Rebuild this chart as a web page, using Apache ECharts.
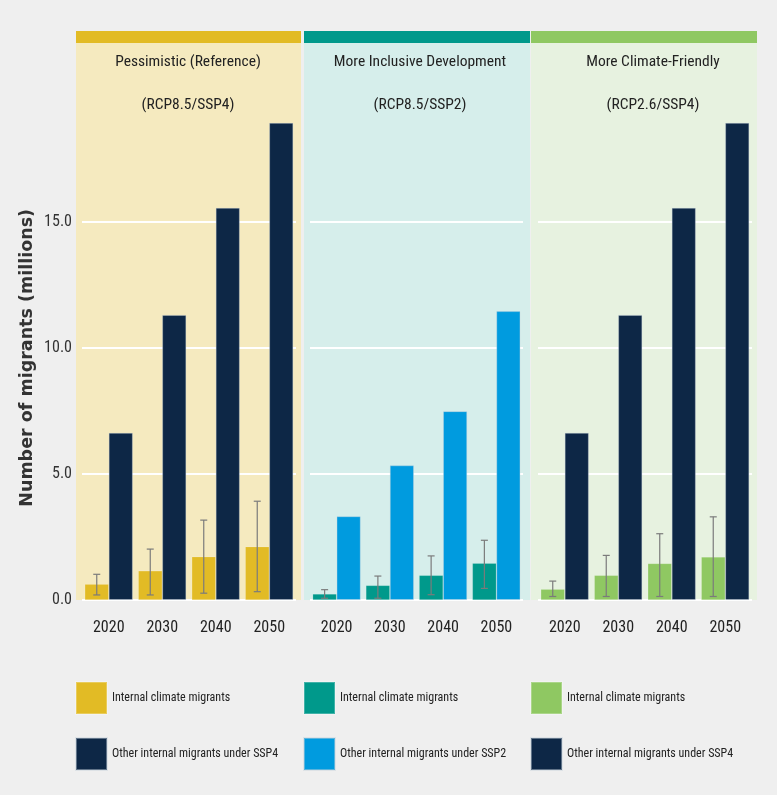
<!DOCTYPE html>
<html>
<head>
<meta charset="utf-8">
<script src="https://cdn.jsdelivr.net/npm/echarts@6/dist/echarts.min.js"></script>
<style>
html,body{margin:0;padding:0;background:#efefef;}
#chart{width:777px;height:795px;}
</style>
</head>
<body>
<div id="chart"></div>
<script>
// ---- data ----
const years = ['2020', '2030', '2040', '2050'];
const yTickLabels = ['0.0', '5.0', '10.0', '15.0'];
const panelTitles = ['Pessimistic (Reference)\n(RCP8.5/SSP4)', 'More Inclusive Development\n(RCP8.5/SSP2)', 'More Climate-Friendly\n(RCP2.6/SSP4)'];
const climateName = 'Internal climate migrants';
const otherNames = ['Other internal migrants under SSP4', 'Other internal migrants under SSP2', 'Other internal migrants under SSP4'];

const pessClimate = [0.63, 1.16, 1.72, 2.12];
const pessLow = [0.20, 0.20, 0.27, 0.33];
const pessHigh = [1.02, 2.02, 3.17, 3.92];
const pessOther = [6.63, 11.31, 15.56, 18.93];

const inclClimate = [0.24, 0.58, 0.98, 1.46];
const inclLow = [0.07, 0.07, 0.21, 0.46];
const inclHigh = [0.41, 0.95, 1.75, 2.37];
const inclOther = [3.32, 5.34, 7.49, 11.46];

const frClimate = [0.43, 0.98, 1.45, 1.71];
const frLow = [0.14, 0.14, 0.14, 0.14];
const frHigh = [0.75, 1.77, 2.63, 3.30];
const frOther = [6.63, 11.31, 15.56, 18.93];

// ---- styling ----
const NARROW = '"Roboto Condensed", "Liberation Sans Narrow", "Arial Narrow", "DejaVu Sans Condensed", sans-serif';
const climateColors = ['#e2bb25', '#00998b', '#8fc862'];
const otherColors = ['#0d2746', '#009bdf', '#0d2746'];
const panelBg = ['#f5eabf', '#d6eeeb', '#e7f2e0'];
const panelRects = [[76, 225], [304, 226], [531, 226]];
const gridLefts = [82, 310, 538];
const gridWidths = [214, 213, 214];
const titleCenters = [188, 420, 653];
const BAR_W = 24;

const panels = [
  {climate: pessClimate, low: pessLow, high: pessHigh, other: pessOther},
  {climate: inclClimate, low: inclLow, high: inclHigh, other: inclOther},
  {climate: frClimate, low: frLow, high: frHigh, other: frOther}
];

const grids = [], xAxes = [], yAxes = [], series = [], titles = [], legends = [], graphics = [];

panels.forEach((p, i) => {
  grids.push({left: gridLefts[i], width: gridWidths[i], top: 45.6, bottom: 195, containLabel: false});
  xAxes.push({
    type: 'category', gridIndex: i, data: years,
    axisLine: {show: false}, axisTick: {show: false},
    axisLabel: {margin: 20, fontFamily: NARROW, fontSize: 16, color: '#222'}
  });
  yAxes.push({
    type: 'value', gridIndex: i, min: 0, max: 22, interval: 5,
    axisLine: {show: false}, axisTick: {show: false},
    splitLine: {show: true, showMaxLine: false,
      lineStyle: {color: ['#ffffff', '#ffffff', '#ffffff', '#ffffff', 'rgba(0,0,0,0)', 'rgba(0,0,0,0)'], width: 2}},
    axisLabel: {
      show: i === 0, margin: 10, fontFamily: NARROW, fontSize: 16, color: '#333',
      formatter: v => { const idx = v / 5; return (Number.isInteger(idx) && idx < yTickLabels.length) ? yTickLabels[idx] : ''; }
    },
    name: i === 0 ? 'Number of migrants (millions)' : '',
    nameLocation: 'middle', nameGap: 46, nameRotate: 90,
    nameTextStyle: {fontFamily: '"DejaVu Sans", Verdana, sans-serif', fontWeight: 'bold', fontSize: 17.5, color: '#333', padding: [0, 70, 0, 0]}
  });
  series.push({
    type: 'bar', name: climateName, xAxisIndex: i, yAxisIndex: i,
    data: p.climate, barWidth: BAR_W, barGap: '0%',
    itemStyle: {color: climateColors[i], borderColor: 'rgba(255,255,255,0.25)', borderWidth: 0.6}
  });
  series.push({
    type: 'bar', name: otherNames[i], xAxisIndex: i, yAxisIndex: i,
    data: p.other, barWidth: BAR_W, barGap: '0%',
    itemStyle: {color: otherColors[i], borderColor: 'rgba(200,210,220,0.45)', borderWidth: 0.8}
  });
  series.push({
    type: 'custom', name: 'error', xAxisIndex: i, yAxisIndex: i, z: 5,
    data: years.map((y, k) => [k, p.low[k], p.high[k]]),
    renderItem: (params, api) => {
      const k = api.value(0);
      const lo = api.coord([k, api.value(1)]);
      const hi = api.coord([k, api.value(2)]);
      const x = lo[0] - BAR_W / 2;
      const cap = 3.5;
      const st = {stroke: '#7b7b7b', lineWidth: 1.2};
      return {type: 'group', children: [
        {type: 'line', shape: {x1: x, y1: lo[1], x2: x, y2: hi[1]}, style: st},
        {type: 'line', shape: {x1: x - cap, y1: hi[1], x2: x + cap, y2: hi[1]}, style: st},
        {type: 'line', shape: {x1: x - cap, y1: lo[1], x2: x + cap, y2: lo[1]}, style: st}
      ]};
    }
  });
  titles.push({
    text: panelTitles[i], left: titleCenters[i], top: 41, textAlign: 'center', padding: 0,
    textStyle: {fontFamily: NARROW, fontSize: 15.5, fontWeight: 'normal', color: '#222', lineHeight: 43}
  });
  legends.push({
    orient: 'vertical', left: panelRects[i][0] - 1, top: 681, itemGap: 22, padding: 0,
    itemWidth: 31, itemHeight: 32, icon: 'rect', selectedMode: false,
    textStyle: {fontFamily: NARROW, fontSize: 12, color: '#222'},
    data: [
      {name: climateName, itemStyle: {color: climateColors[i]}},
      {name: otherNames[i], itemStyle: {color: otherColors[i]}}
    ]
  });
  graphics.push({type: 'rect', z: -10, shape: {x: panelRects[i][0], y: 43, width: panelRects[i][1], height: 557}, style: {fill: panelBg[i]}});
  graphics.push({type: 'rect', z: -10, shape: {x: panelRects[i][0], y: 31, width: panelRects[i][1], height: 12}, style: {fill: climateColors[i]}});
});

const chart = echarts.init(document.getElementById('chart'), null, {renderer: 'canvas'});
chart.setOption({
  backgroundColor: '#efefef',
  animation: false,
  graphic: {elements: graphics},
  title: titles,
  legend: legends,
  grid: grids,
  xAxis: xAxes,
  yAxis: yAxes,
  series: series
});
</script>
</body>
</html>
